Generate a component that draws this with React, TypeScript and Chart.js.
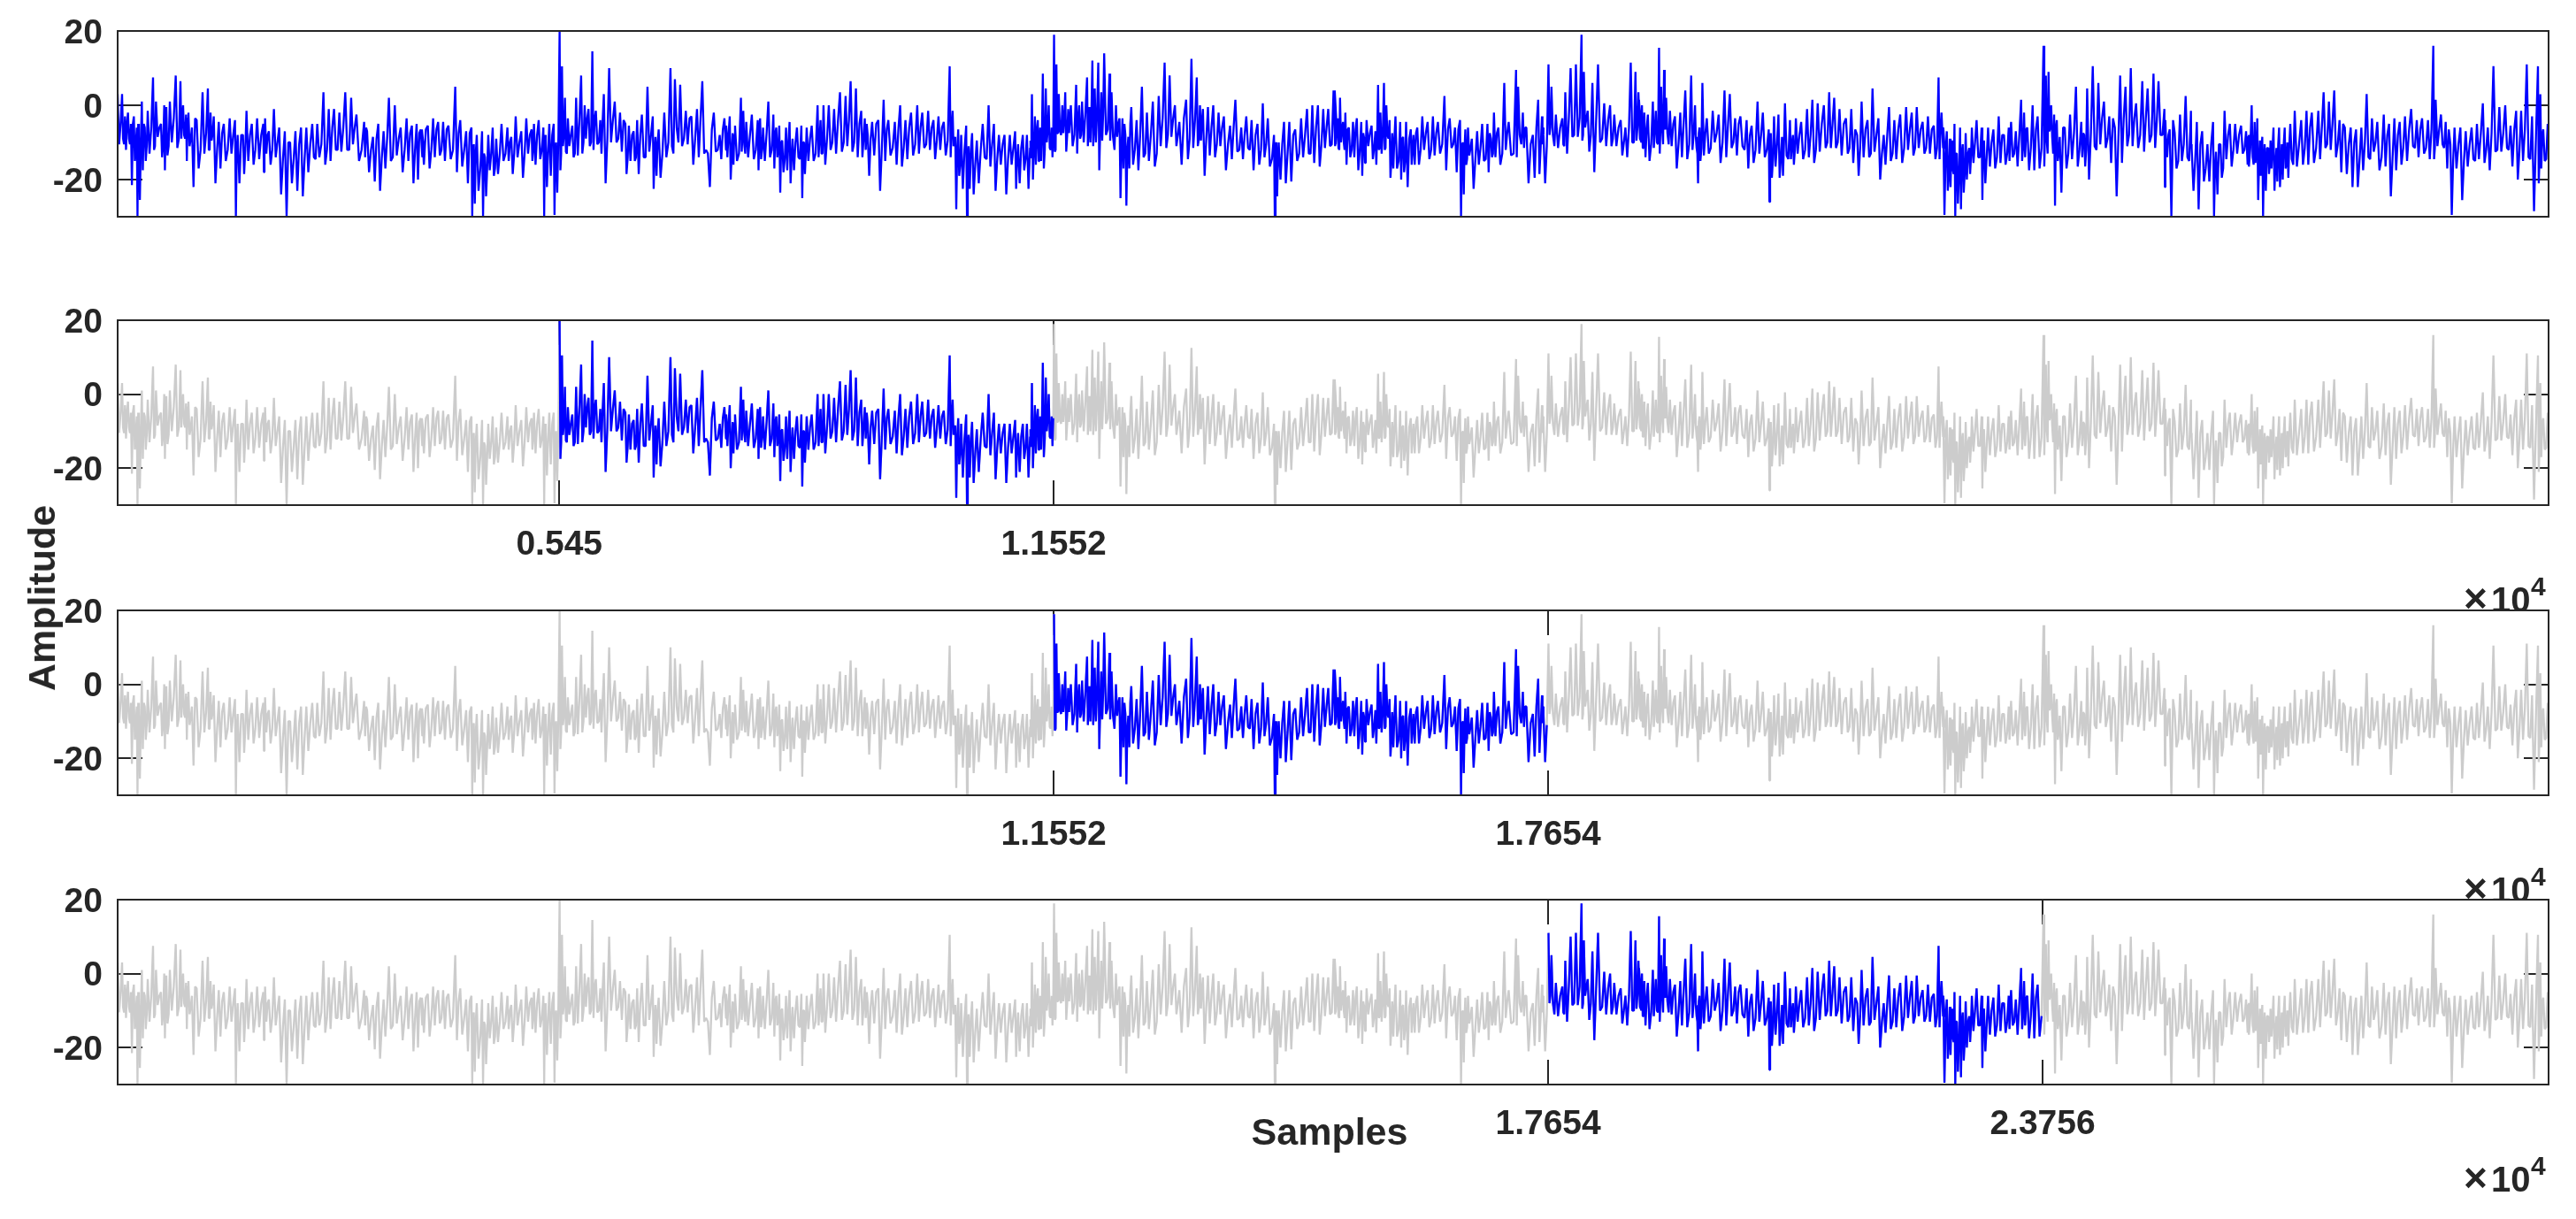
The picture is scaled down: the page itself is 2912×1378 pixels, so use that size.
import { useEffect, useRef } from 'react';
import { Chart, registerables } from 'chart.js';

Chart.register(...registerables);

// columns: [position, peak, trough]
// position counts 1032 steps per stretch, one stretch is 3755 samples
type Column = [number, number, number];

const stretchA: Column[] = [
	[0, 3, -10.5], [15, 3, -9], [25, -3, -12], [35, -2, -9], [45, -5, -21.5], [55, -3, -15], [65, -6, -30], [72, -8, -25.5],
	[82, 1, -17.5], [92, -6, -15], [102, -1.5, -13], [120, 7.5, -12], [130, 1, -8.5], [147, -5, -14], [158, 0, -17.5], [165, -0.5, -13.5],
	[177, 1, -10], [197, 8, -11.5], [213, 6.5, -9], [222, 0, -8], [232, -2.5, -15], [240, -2, -11], [252, -6, -22], [268, -4, -17],
	[288, 3.5, -13], [306, 4.5, -12], [315, -2, -9.5], [326, -3, -21], [343, -4.5, -17], [360, -5, -15], [380, -3.5, -13], [398, -4, -30],
	[407, -8, -21], [425, -8, -18.5], [437, -1.5, -15], [455, -5, -16], [473, -3.5, -14.5], [494, -5, -18], [500, -3.5, -13], [513, -7, -16],
	[530, -1, -14], [548, -6, -24], [567, -7, -30], [585, -10, -21], [603, -7, -23], [622, -6, -24.5], [640, -6, -18], [660, -5, -14],
	[677, -5, -14], [698, 3.5, -16], [716, -1, -15], [734, -1, -12], [752, -2, -12.5], [772, 3.5, -12], [792, 2, -10.5], [810, -2.5, -15],
	[836, -4.5, -14], [846, -7, -18], [866, -8.5, -20.5], [884, -5, -23], [902, -7, -17], [920, 2, -15], [940, 0, -13.5], [960, -6, -18],
	[980, -3.5, -15], [998, -5.5, -21], [1014, -5, -20], [1028, -6.5, -14],
];
const stretchB: Column[] = [
	[0, -6.5, -16], [20, -5.5, -17], [38, -3.5, -14], [55, -4.5, -13.5], [72, -4.5, -15], [90, -5.5, -14.5], [113, 5, -18], [130, -4, -16.5],
	[150, -7, -21], [168, -6, -30], [176, -10.5, -26.5], [186, -8, -23], [204, -7, -30], [214, -14, -24.5], [225, -8, -17.5], [240, -6, -19],
	[252, -9, -18.5], [270, -5, -15], [290, -6, -15], [303, -8.5, -18.5], [318, -3, -14], [337, -7, -19.5], [354, -3.5, -13], [372, -6.5, -15],
	[380, -5, -16], [396, -4, -14.5], [412, -6, -30], [420, -10.5, -22], [432, -5, -19], [447, -5, -29.5], [455, -10, -23.5], [467, 20, -17.5],
	[475, 10.5, -11], [485, 2, -12.5], [495, -3.5, -11], [510, -5.5, -14], [523, 2, -13.5], [540, 8, -13], [552, 0, -9], [565, -1, -11],
	[578, 14.5, -12], [590, -1.5, -10.5], [605, -4, -13], [617, 3, -21], [635, 10, -10], [654, 1, -10], [672, -2, -12.5], [690, -5, -18.5],
	[702, -5.5, -15], [718, -7, -15], [730, -4, -18.5], [746, -2.5, -14], [765, 5, -12.5], [783, -3, -22.5], [792, -8.5, -19], [803, -6.5, -19.5],
	[822, -2, -14], [843, 10, -11], [858, 7, -6], [876, 5.5, -11], [895, -1.5, -10.5], [914, -3, -16], [933, -1, -14], [951, 6.5, -13],
	[970, -13, -22], [990, -2, -12.5], [1010, -8, -14.5], [1026, -3.5, -12],
];
const stretchC: Column[] = [
	[0, -5.5, -14], [12, -3, -20], [22, -7.5, -16], [30, -5.5, -15], [50, 2, -12.5], [58, -1.5, -10.5], [68, -4.5, -14], [87, -2.5, -14.5],
	[107, -4, -17.5], [115, -3.5, -14.5], [125, -6, -15], [143, 1, -14], [160, -2.5, -17], [170, -6, -14], [180, -5.5, -23.5], [190, -9.5, -18],
	[203, -6, -17.5], [215, -4.5, -21], [225, -9, -17.5], [240, -6, -14], [255, -5.5, -25], [264, -10, -18.5], [273, -6, -15], [290, -5.5, -15],
	[310, 0, -14], [320, -4, -13], [330, 0, -16], [348, 0, -12], [366, -1, -13], [386, 3.5, -12.5], [405, 2.5, -11], [422, 6.5, -12.5],
	[440, 4.5, -14], [458, -1.5, -14], [470, -3.5, -12], [480, -8, -19], [495, -4.5, -13.5], [516, -4, -23], [534, 1.5, -15], [550, -4, -13.5],
	[572, -4.5, -16], [590, 0, -16.5], [608, -4, -14.5], [627, -2, -13.5], [648, 0, -13], [665, -2, -11.5], [685, -1.5, -12], [703, -4, -14.5],
	[720, -3, -12], [738, -4.5, -13.5], [758, 10.5, -14], [768, -1.5, -11], [777, -8.5, -28], [787, -6.5, -19], [797, -8, -22.5], [814, -5.5, -30],
	[822, -11, -22.5], [834, -7.5, -24], [850, -9.5, -21], [870, -5, -14], [890, 0, -16.5], [908, -5, -23], [925, -8, -16], [944, -8, -24],
	[962, -8, -16], [980, -7, -22.5], [990, -10.5, -21], [1006, -8, -17.5], [1020, -8, -22.5],
];
const stretchD: Column[] = [
	[0, -9.5, -14], [5, 3, -20], [15, -3, -16], [25, -4, -15], [33, -6, -15], [42, 8.5, -17], [52, 4.5, -10], [62, 0, -11.5],
	[72, -6, -14], [80, 19, -12.5], [88, 11, -7.5], [96, 3, -7], [108, 0, -7.5], [118, 3.5, -12.5], [128, -1, -7.5], [137, 0, -11],
	[155, 5.5, -13], [165, 0, -9], [175, 1, -10], [192, 7.5, -11], [200, -0.5, -10], [210, 12, -11], [218, 4.5, -10], [230, 11.5, -17.5],
	[240, 3.5, -9.5], [250, 14, -8], [268, 8.5, -9.5], [275, 3.5, -8.5], [290, 0, -8.5], [302, -3.5, -25], [312, -3.5, -17], [322, -8, -27],
	[332, -8.5, -17], [342, -0.5, -16], [360, -4, -17.5], [378, 5, -14], [395, -2, -15], [415, 1, -16.5], [435, 2.5, -11], [455, 11.5, -11.5],
	[472, 8, -8.5], [490, 0, -11], [505, -4.5, -16], [528, 1.5, -14.5], [546, 12.5, -11.5], [564, 7.5, -11], [575, 0, -9.5], [585, -1, -19],
	[602, -0.5, -13.5], [620, 0, -14], [638, -2, -11], [656, -3, -17.5], [677, -5.5, -14.5], [695, 1.5, -12.5], [715, -6, -14.5], [732, -3, -11.5],
	[750, -4, -17.5], [770, -5, -16], [788, 0.5, -14], [805, -3.5, -16.5], [826, -8, -30], [834, -10, -24.5], [842, -10, -20], [860, -4.5, -21],
	[878, -4.5, -20.5], [898, -6.5, -15], [918, -3.5, -14], [938, -1, -13], [956, 0, -15.5], [975, 0, -16.5], [993, -1, -11.5], [1010, -1, -11],
	[1028, 4, -11],
];
const stretchE: Column[] = [
	[0, 4, -10.5], [10, -3.5, -11.5], [18, 2, -10], [28, -4.5, -10], [36, -2, -16], [48, -6, -14], [62, -4.5, -14], [75, -3.5, -17.5],
	[90, -4.5, -19], [100, -9, -15.5], [108, -4, -11], [125, -5.5, -14.5], [138, -7, -16], [147, 5.5, -12], [155, -2, -13], [167, 6, -12],
	[175, 0, -8], [186, -4, -19.5], [195, -7.5, -17], [206, -3, -17], [222, -4.5, -20], [232, -8.5, -18], [242, -4.5, -22], [258, -6.5, -16],
	[267, -8, -16], [280, -6, -16], [297, -3, -12], [315, -4.5, -14.5], [333, -3, -13.5], [350, -4.5, -13], [372, 2.5, -17.5], [390, -3.5, -11.5],
	[408, -6, -18], [425, -4, -30], [435, -10, -24], [443, -6.5, -16], [452, -6, -13.5], [465, -9, -22.5], [483, -7, -16], [500, -5, -15],
	[518, -5, -18], [530, -9, -14], [540, -2, -14], [555, -6, -16], [575, 6, -12], [590, -4.5, -13.5], [615, 9.5, -14], [622, 5, -8],
	[638, -2, -11.5], [650, -6, -21], [672, -8, -19.5], [690, 1.5, -18.5], [703, -3, -10.5], [708, -8, -21], [725, 11, -8], [735, 5, -8],
	[750, -2.5, -11.5], [772, -3.5, -10.5], [782, 3.5, -13], [800, 10, -8.5], [818, 11, -8.5], [837, 19, -9.5], [845, 9, -6], [858, -1.5, -12.5],
	[874, 6, -18], [893, 11, -10], [914, 0.5, -11], [934, 0, -11], [948, -2.5, -11], [970, -4, -13.5], [986, -6, -14], [1004, 11.5, -10],
	[1020, 9, -9.5], [1030, 3.5, -9],
];
const stretchF: Column[] = [
	[0, 1.5, -9], [10, 0, -11.5], [18, -2, -14], [30, -2.5, -15], [47, 1, -11.5], [57, -1.5, -10], [68, 15.5, -13], [75, 5, -6],
	[85, 9.5, -6], [92, 2, -7.5], [105, -1.5, -11], [122, -3, -17], [140, -2, -14], [157, 4, -14.5], [177, 8, -12], [190, 0, -8.5],
	[198, -13, -21], [205, -6, -15], [215, 6, -13.5], [230, -3.5, -13], [250, -1.5, -10], [270, -2.5, -15.5], [290, 4, -14], [308, 3, -11.5],
	[326, -3.5, -13.5], [344, -3, -11], [365, -4, -17], [382, -5.5, -15.5], [402, 1, -13], [420, -2, -14], [440, -6.5, -26], [447, -7.5, -19.5],
	[458, -3, -16.5], [473, -2.5, -19.5], [485, -8.5, -19], [495, 0.5, -13.5], [512, -4, -14.5], [522, -8, -16], [532, -3.5, -13], [550, -4.5, -14.5],
	[570, -1, -14], [588, 1.5, -15.5], [606, 0.5, -12.5], [627, 0, -11.5], [645, 3.5, -11.5], [662, 2, -11.5], [680, -1, -13.5], [702, -3.5, -13],
	[720, -1, -15.5], [740, -8, -19], [755, 1, -14], [775, -4, -14], [792, 4.5, -12.5], [812, -3.5, -20], [830, -8, -16], [848, -0.5, -15],
	[866, -4, -14.5], [886, -2.5, -15.5], [906, -0.5, -12], [925, -2, -13.5], [942, -0.5, -11.5], [962, -4.5, -13], [980, -3, -13], [1000, -5.5, -14.5],
	[1016, 7.5, -14.5], [1026, -2, -11.5],
];
const stretchG: Column[] = [
	[0, -6, -29.5], [12, -7, -23], [22, -9, -22], [30, -9.5, -17.5], [38, -5, -30], [46, -13, -26.5], [57, -6, -28], [66, -10.5, -23.5],
	[76, -7.5, -20], [88, -11.5, -18.5], [97, -6, -15.5], [113, -4, -14], [130, -6, -25.5], [138, -9.5, -21], [152, -6, -16.5], [170, -6.5, -17],
	[188, -3, -15.5], [206, -8, -16], [222, -6, -15], [230, -4.5, -14], [246, -7, -16.5], [264, 1.5, -15], [274, -2, -14], [285, -6, -17.5],
	[303, 0, -17.5], [320, -3, -17], [340, 16, -16.5], [348, 8, -9.5], [357, 9, -7], [366, 0, -8.5], [376, -2.5, -27], [385, -4, -15],
	[395, -8.5, -23.5], [412, -6, -17], [430, -2.5, -14.5], [450, 5, -16.5], [468, -4.5, -14], [478, -8, -16.5], [488, 4.5, -20], [507, 10.5, -11],
	[526, 6, -10.5], [545, 1, -11.5], [563, -3, -15.5], [582, -6, -24.5], [600, 8, -15.5], [618, 5, -11], [636, 10, -11], [654, 0.5, -11.5],
	[675, 6.5, -12.5], [693, 4.5, -10], [713, 8.5, -11.5], [730, 6.5, -8], [750, -1, -22], [755, -8, -14], [768, -6.5, -30], [785, -7.5, -17],
	[803, -2.5, -15], [822, 2.5, -14], [840, -1.5, -11], [843, -11.5, -23], [860, -4.5, -28], [878, -7, -20.5], [896, -10.5, -20.5], [915, -4.5, -30],
	[925, -12.5, -24], [940, -10.5, -19.5], [954, -1.5, -14.5], [972, -5, -16.5], [990, -5, -13], [1010, -5.5, -13], [1027, -7, -16],
];
const stretchH: Column[] = [
	[0, -9, -16.5], [14, 0, -14], [24, -4.5, -15.5], [33, -3.5, -25.5], [42, -9.5, -19], [50, -8.5, -30], [58, -10.5, -23], [70, -11.5, -18.5],
	[78, -9.5, -17], [88, -6, -23], [98, -11.5, -20.5], [107, -6, -22], [116, -10.5, -20], [126, -6, -17], [135, -10, -19.5], [145, -5, -14.5],
	[160, -1.5, -16.5], [182, -4, -16], [200, -1.5, -16], [218, -2, -15.5], [240, -1.5, -14.5], [258, 3.5, -11.5], [276, 1, -12], [294, 4, -14],
	[312, -4, -18], [330, -6, -18.5], [350, -6, -22], [368, -6.5, -22], [386, -6, -17.5], [404, 3, -14], [422, -3.5, -12.5], [440, -4.5, -17.5],
	[462, -2.5, -16.5], [480, -5, -24.5], [498, -3.5, -17.5], [516, -4.5, -16], [534, -3, -15], [555, -1, -11], [574, -4, -14], [592, -3.5, -13],
	[612, -4, -14.5], [630, 16, -14.5], [638, 1.5, -11], [656, -2.5, -10.5], [672, -4.5, -17], [688, -10.5, -29.5], [702, -6, -17], [722, -6, -25.5],
	[740, -7, -16.5], [760, -6, -14.5], [778, -5, -14.5], [798, 0.5, -15.5], [815, -6, -17.5], [834, 10.5, -12.5], [854, -0.5, -12.5], [874, 0, -11.5],
	[892, -5.5, -16.5], [911, -1.5, -20], [928, -1.5, -15], [947, 11, -14], [965, -3, -28.5], [985, 10.5, -21], [993, 3, -17], [1003, -6.5, -15],
	[1018, -5, -13.5],
];
const stretches = [stretchA, stretchB, stretchC, stretchD, stretchE, stretchF, stretchG, stretchH];

// the dense core of the trace, [upper, lower] over 12 equal parts of each stretch
const coreA = [[-5, -10.5], [-6, -11], [-3.5, -9], [-7.5, -12], [-8, -12], [-8, -12], [-10, -14.5], [-10.5, -14.5], [-6, -12], [-6, -12], [-9, -14], [-7.5, -12]];
const coreB = [[-6.5, -12], [-7.5, -12], [-13, -17], [-10, -13], [-8, -12], [-8, -13], [-3.5, -10], [-4, -9], [-8, -14], [-10, -13], [-3.5, -9], [-6.5, -12]];
const coreC = [[-8, -13], [-7.5, -12], [-10, -14.5], [-9, -13], [-4, -10], [-5, -9], [-6.5, -11.5], [-6, -10.5], [-6, -9.5], [-12, -16], [-10.5, -14.5], [-11.5, -14.5]];
const coreD = [[-6.5, -12], [-3.5, -8], [-2, -6.5], [-5, -12], [-8, -13], [-3.5, -8], [-4, -9], [-6, -10.5], [-8, -12], [-10.5, -14.5], [-8, -13], [-6, -10.5]];
const coreE = [[-6.5, -12], [-7.5, -11.5], [-9, -15], [-7.5, -12], [-6.5, -10.5], [-11.5, -14.5], [-7.5, -13], [-6, -10.5], [-6, -11], [-3.5, -8], [-4, -9], [-6, -10]];
const coreF = [[-6.5, -10.5], [-5, -10.5], [-7.5, -11.5], [-5, -10], [-8, -12], [-10.5, -14.5], [-8, -12], [-5, -10], [-6.5, -11.5], [-8, -13], [-6.5, -11.5], [-6.5, -11.5]];
const coreG = [[-13, -18.5], [-10, -14], [-8, -13], [-6.5, -11.5], [-6, -13], [-7.5, -12], [-3.5, -9], [-3.5, -8], [-4, -8], [-10.5, -15], [-10.5, -17], [-8, -12]];
const coreH = [[-11.5, -16], [-10.5, -16], [-6, -11.5], [-5, -10.5], [-10, -14.5], [-8, -14], [-6.5, -11.5], [-6.5, -11.5], [-10.5, -15], [-7.5, -12], [-6.5, -12], [-8, -14.5]];
const cores = [coreA, coreB, coreC, coreD, coreE, coreF, coreG, coreH];

const xTicksByPanel = [[], [5450, 11552], [11552, 17654], [17654, 23756]];
const highlightByPanel = [[0, 30000], [5450, 11552], [11552, 17654], [17654, 23756]];
const yTicks = [-20, 0, 20];

const samplesPerStep = 3755 / 1032;
const signal = stretches.flatMap((columns, k) =>
	columns.flatMap(([at, peak, trough], i) => {
		const next = i + 1 < columns.length ? columns[i + 1][0] : at + 16;
		const gap = (next - at) / 3;
		const [upper, lower] = cores[k][Math.min(11, Math.floor(at / 86))];
		return [peak, trough, i % 2 ? lower : upper].map((y, j) => ({
			x: (k * 1032 + at + j * gap) * samplesPerStep,
			y,
		}));
	})
);

const ink = '#262626';
const font = 'Liberation Sans, Arial, sans-serif';
const panelTops = [35, 362, 690, 1017];
const panelHeights = [210, 209, 209, 209];
const canvasPadTop = 30;
const canvasPadBottom = 140;
const tickLength = 28;

function Panel({ index }: { index: number }) {
	const canvasRef = useRef<HTMLCanvasElement>(null);

	useEffect(() => {
		const ctx = canvasRef.current?.getContext('2d');
		if (!ctx) return;
		const [from, to] = highlightByPanel[index];
		const marks = xTicksByPanel[index];

		const frame = {
			id: 'frame',
			beforeDraw(chart: Chart) {
				const { left, top, width, height } = chart.chartArea;
				chart.ctx.fillStyle = '#fff';
				chart.ctx.fillRect(left, top, width, height);
			},
			beforeDatasetsDraw(chart: Chart) {
				const { left, right, top, bottom } = chart.chartArea;
				const c = chart.ctx;
				c.save();
				c.strokeStyle = ink;
				c.lineWidth = 2;
				c.beginPath();
				for (const v of yTicks) {
					const y = Math.round(chart.scales.y.getPixelForValue(v));
					c.moveTo(left, y);
					c.lineTo(left + tickLength, y);
					c.moveTo(right, y);
					c.lineTo(right - tickLength, y);
				}
				for (const v of marks) {
					const x = Math.round(chart.scales.x.getPixelForValue(v));
					c.moveTo(x, bottom);
					c.lineTo(x, bottom - tickLength);
					c.moveTo(x, top);
					c.lineTo(x, top + tickLength);
				}
				c.stroke();
				c.restore();
			},
			afterDatasetsDraw(chart: Chart) {
				const { left, top, width, height, bottom } = chart.chartArea;
				const c = chart.ctx;
				c.save();
				c.strokeStyle = ink;
				c.lineWidth = 2;
				c.strokeRect(left, top, width, height);
				if (marks.length) {
					c.fillStyle = ink;
					c.textBaseline = 'alphabetic';
					c.font = `bold 46px ${font}`;
					c.fillText('×', 2785, bottom + 121);
					c.font = `bold 40px ${font}`;
					c.fillText('10', 2816, bottom + 121);
					c.font = `bold 30px ${font}`;
					c.fillText('4', 2861, bottom + 102);
				}
				c.restore();
			},
		};

		const line = (data: { x: number; y: number }[], color: string) => ({
			type: 'line' as const,
			data,
			borderColor: color,
			borderWidth: 2.3,
			borderJoinStyle: 'bevel' as const,
			pointRadius: 0,
			tension: 0,
			fill: false,
		});
		const highlighted = line(signal.filter((p) => p.x >= from && p.x <= to), '#0000ff');
		const datasets = index === 0 ? [highlighted] : [highlighted, line(signal, '#cccccc')];

		const chart = new Chart(ctx, {
			type: 'line',
			data: { datasets },
			options: {
				animation: false,
				responsive: false,
				devicePixelRatio: 1,
				parsing: false,
				layout: { padding: { top: canvasPadTop, right: 31, left: 0, bottom: 0 } },
				plugins: { legend: { display: false }, tooltip: { enabled: false }, title: { display: false } },
				scales: {
					x: {
						type: 'linear',
						min: 0,
						max: 30000,
						border: { display: false },
						grid: { display: false, drawTicks: false },
						afterBuildTicks: (scale: any) => {
							scale.ticks = marks.map((value) => ({ value }));
						},
						afterFit: (scale: any) => {
							scale.height = canvasPadBottom;
							scale.paddingLeft = 0;
							scale.paddingRight = 0;
						},
						ticks: {
							autoSkip: false,
							maxRotation: 0,
							minRotation: 0,
							padding: 22,
							color: ink,
							font: { family: font, size: 39, weight: 'bold' },
							callback: (value: any) => String(Number(value) / 10000),
						},
					},
					y: {
						type: 'linear',
						min: -30,
						max: 20,
						border: { display: false },
						grid: { display: false, drawTicks: false },
						afterBuildTicks: (scale: any) => {
							scale.ticks = yTicks.map((value) => ({ value }));
						},
						afterFit: (scale: any) => {
							scale.width = 133;
							scale.paddingTop = 0;
							scale.paddingBottom = 0;
						},
						ticks: {
							padding: 17,
							labelOffset: 3,
							color: ink,
							font: { family: font, size: 39, weight: 'bold' },
							callback: (value: any) => String(value),
						},
					},
				},
			},
			plugins: [frame],
		} as any);
		return () => chart.destroy();
	}, [index]);

	return (
		<canvas
			ref={canvasRef}
			width={2912}
			height={canvasPadTop + panelHeights[index] + canvasPadBottom}
			style={{ position: 'absolute', left: 0, top: panelTops[index] - canvasPadTop, display: 'block' }}
		/>
	);
}

const labelStyle = {
	position: 'absolute' as const,
	font: `bold 43px ${font}`,
	color: ink,
	whiteSpace: 'nowrap' as const,
	lineHeight: '50px',
};

export default function App() {
	return (
		<div style={{ position: 'absolute', left: 0, top: 0, width: 2912, height: 1378, background: '#fff', overflow: 'hidden' }}>
			{panelTops.map((_, i) => (
				<Panel key={i} index={i} />
			))}
			<div style={{ ...labelStyle, left: 47, top: 676, transform: 'translate(-50%, -50%) rotate(-90deg)' }}>Amplitude</div>
			<div style={{ ...labelStyle, left: 1503, top: 1279, transform: 'translate(-50%, -50%)' }}>Samples</div>
		</div>
	);
}
